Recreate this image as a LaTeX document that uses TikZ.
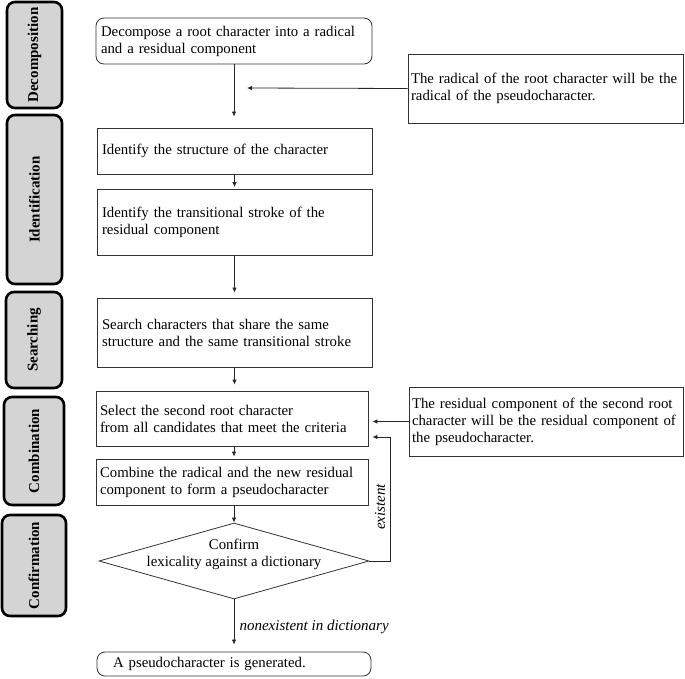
\documentclass[tikz,border=0pt]{standalone}
\usepackage{fontspec}
\setmainfont{Liberation Serif}
\usetikzlibrary{arrows.meta,shapes.geometric,calc}
\begin{document}
\begin{tikzpicture}[x=1pt,y=-1pt,
  txt/.style={font=\fontsize{14.8}{17}\selectfont},
  mainbox/.style={txt,draw=black!80,line width=0.8pt,rectangle,align=left,inner xsep=5pt,inner ysep=0pt},
  stage/.style={draw=black,line width=2.6pt,fill=black!17,rounded corners=8pt,rotate=90,
    font=\fontsize{15}{17}\selectfont\bfseries,inner sep=0pt},
  arr/.style={draw=black!85,line width=0.8pt,-{Latex[length=5pt,width=4.5pt]}},
  lbl/.style={font=\fontsize{15}{17}\selectfont\itshape}
]
\useasboundingbox (0,0) rectangle (685,678);
% stage labels
\node[stage,minimum width=106pt,minimum height=55pt] (sdec) at (34.5,55) {Decomposition};
\node[stage,minimum width=169pt,minimum height=55pt] (sid) at (34.5,199.5) {Identification};
\node[stage,minimum width=96pt,minimum height=56pt] (ssea) at (34,340) {Searching};
\node[stage,minimum width=108pt,minimum height=60pt] (scom) at (34,451) {Combination};
\node[stage,minimum width=101pt,minimum height=64pt] (scon) at (34,565.5) {Confirmation};
% main boxes
\node[mainbox,rounded corners=8pt,text width=266pt,minimum height=46pt] (dec) at (234,41)
  {Decompose a root character into a radical\\and a residual component};
\node[mainbox,text width=265pt,minimum height=46pt] (id1) at (234.5,151)
  {Identify the structure of the character};
\node[mainbox,text width=265pt,minimum height=66pt] (id2) at (234.5,222)
  {Identify the transitional stroke of the\\residual component};
\node[mainbox,text width=265pt,minimum height=69pt] (sea) at (234.5,332.5)
  {Search characters that share the same\\structure and the same transitional stroke};
\node[mainbox,text width=264pt,minimum height=55pt,inner xsep=4pt] (sel) at (232,418.5)
  {Select the second root character\\from all candidates that meet the criteria};
\node[mainbox,text width=264pt,minimum height=46pt,inner xsep=4pt] (com) at (232,482)
  {Combine the radical and the new residual\\component to form a pseudocharacter};
\node[diamond,draw=black!80,line width=0.8pt,minimum width=270pt,minimum height=76pt,inner sep=0pt] (conf) at (234,561) {};
\node[txt,align=center] (conft) at (234,554) {Confirm\\lexicality against a dictionary};
\node[mainbox,rounded corners=8pt,inner xsep=16pt,text width=242pt,minimum height=24pt] (fin) at (234,664)
  {A pseudocharacter is generated.};
% side notes
\node[mainbox,inner xsep=3pt,text width=269pt,minimum height=69pt] (n1) at (545.5,88.5)
  {The radical of the root character will be the\\radical of the pseudocharacter.};
\node[mainbox,inner xsep=3pt,text width=268pt,minimum height=69pt] (n2) at (546,421.5)
  {The residual component of the second root\\character will be the residual component of\\the pseudocharacter.};
% connectors
\coordinate (rad) at (247,88);
\coordinate (loopc) at (390,437);
\draw[arr,shorten >=11pt] (dec.south) -- (dec.south |- id1.north);
\draw[arr,shorten >=1.5pt] (id1.south) -- (id1.south |- id2.north);
\draw[arr,shorten >=5pt] (id2.south) -- (id2.south |- sea.north);
\draw[arr,shorten >=6pt] (sea.south) -- (sea.south |- sel.north);
\draw[arr,shorten >=2pt] (sel.south -| dec.south) -- (dec.south |- com.north);
\draw[arr] (com.south -| dec.south) -- (conf.north);
\draw[arr,shorten >=7pt] (conf.south) -- (fin.north);
\draw[arr] (n1.west) -- (rad);
\draw[arr,shorten >=4pt] (n2.west) -- (sel.east |- n2.west);
\draw[arr,shorten >=4pt] (conf.east) -| (loopc) -- (sel.east |- loopc);
% labels
\node[lbl,rotate=90] (lex) at (380,507) {existent};
\node[lbl,anchor=west] (lnon) at (236,627) {nonexistent in dictionary};
\end{tikzpicture}
\end{document}
